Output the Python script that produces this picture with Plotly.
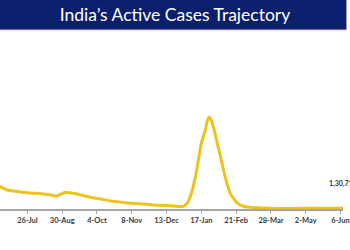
import plotly.graph_objects as go

# Active cases (lakh)
dates = [
    "2021-06-21", "2021-06-28", "2021-07-05", "2021-07-12", "2021-07-19", "2021-07-26",
    "2021-08-02", "2021-08-09", "2021-08-16", "2021-08-20", "2021-08-24", "2021-08-28",
    "2021-09-02", "2021-09-06", "2021-09-13", "2021-09-20", "2021-09-27", "2021-10-04",
    "2021-10-11", "2021-10-18", "2021-10-25", "2021-11-01", "2021-11-08", "2021-11-15",
    "2021-11-22", "2021-11-29", "2021-12-06", "2021-12-13", "2021-12-20", "2021-12-27",
    "2021-12-30", "2022-01-03", "2022-01-07", "2022-01-11", "2022-01-14", "2022-01-17",
    "2022-01-21", "2022-01-23", "2022-01-25", "2022-01-27", "2022-01-30", "2022-02-02",
    "2022-02-06", "2022-02-10", "2022-02-15", "2022-02-22", "2022-03-01", "2022-03-08",
    "2022-03-15", "2022-03-22", "2022-03-29", "2022-04-05", "2022-04-12", "2022-04-19",
    "2022-04-26", "2022-05-03", "2022-05-10", "2022-05-17", "2022-05-24", "2022-05-31",
    "2022-06-07", "2022-06-14", "2022-06-21", "2022-06-28", "2022-07-05", "2022-07-12",
]
active_lakh = [
    7.0, 5.6, 4.7, 4.4, 4.15, 3.95,
    3.85, 3.75, 3.5, 3.4, 3.1, 3.6,
    4.05, 4.0, 3.75, 3.3, 2.9, 2.6,
    2.3, 1.95, 1.75, 1.55, 1.42, 1.3,
    1.15, 1.0, 0.9, 0.85, 0.75, 0.6,
    0.65, 1.5, 3.9, 7.8, 12.0, 16.1,
    19.3, 21.6, 22.5, 21.7, 19.3, 16.1,
    12.0, 7.8, 3.9, 1.5, 0.6, 0.4,
    0.3, 0.22, 0.16, 0.13, 0.11, 0.13,
    0.16, 0.19, 0.19, 0.17, 0.15, 0.17,
    0.26, 0.55, 0.9, 1.05, 1.19, 1.31,
]
active = [v * 1e5 for v in active_lakh]

tick_dates = ["2021-06-21", "2021-07-26", "2021-08-30", "2021-10-04", "2021-11-08",
              "2021-12-13", "2022-01-17", "2022-02-21", "2022-03-28", "2022-05-02",
              "2022-06-06"]
tick_labels = ["21-Jun", "26-Jul", "30-Aug", "4-Oct", "8-Nov", "13-Dec", "17-Jan",
               "21-Feb", "28-Mar", "2-May", "6-Jun"]

x_range = ["2021-06-28 10:00", "2022-06-08 12:00"]
y_range = [0, 4.38e6]

title_text = "India’s Active Cases Trajectory"
end_label = "1,30,713"
end_label_pos = ("2022-06-08 12:00", 6.3e5)

H, W = 250, 350
top_px, axis_px = 30, 209
b_margin = H - axis_px
paper_h = axis_px
dom_top = 1 - top_px / paper_h

fig = go.Figure()
fig.add_trace(go.Scatter(
    x=dates, y=active, mode="lines",
    line=dict(color="#EEC11C", width=3, shape="spline", smoothing=0.6),
    hoverinfo="skip", showlegend=False,
))

fig.add_annotation(
    x=end_label_pos[0], y=end_label_pos[1], xref="x", yref="y",
    text=end_label, showarrow=False, xanchor="center", yanchor="middle",
    font=dict(family="Lato", size=7, color="#333333", weight="bold"),
)

# title banner
fig.add_shape(type="rect", xref="paper", yref="paper", x0=-0.01, x1=1.01,
              y0=dom_top, y1=1.0, fillcolor="#0B1F6C", line_width=0, layer="above")
fig.add_shape(type="line", xref="paper", yref="paper", x0=-0.01, x1=1.01,
              y0=dom_top, y1=dom_top, line=dict(color="#E9BBA6", width=1), layer="above")

fig.update_layout(
    width=W, height=H,
    margin=dict(l=0, r=0, t=0, b=b_margin, pad=0),
    paper_bgcolor="white", plot_bgcolor="white",
    title=dict(text=title_text, x=0.5, xanchor="center", y=1 - 15 / H, yanchor="middle",
               yref="container",
               font=dict(family="Lato", size=17.5, color="white")),
    xaxis=dict(
        type="date", range=x_range, tickmode="array", tickvals=tick_dates,
        ticktext=tick_labels, showgrid=False, zeroline=False,
        showline=True, linecolor="#A6A6A6", linewidth=1.5,
        ticks="outside", ticklen=3, tickcolor="#A6A6A6", tickwidth=1,
        tickfont=dict(family="Lato", size=7.5, color="#3A3A3A", weight="bold"),
        ticklabeloverflow="allow",
    ),
    yaxis=dict(range=y_range, visible=False, showgrid=False, zeroline=False,
               domain=[0, dom_top]),
)

fig.write_html("out.html")
